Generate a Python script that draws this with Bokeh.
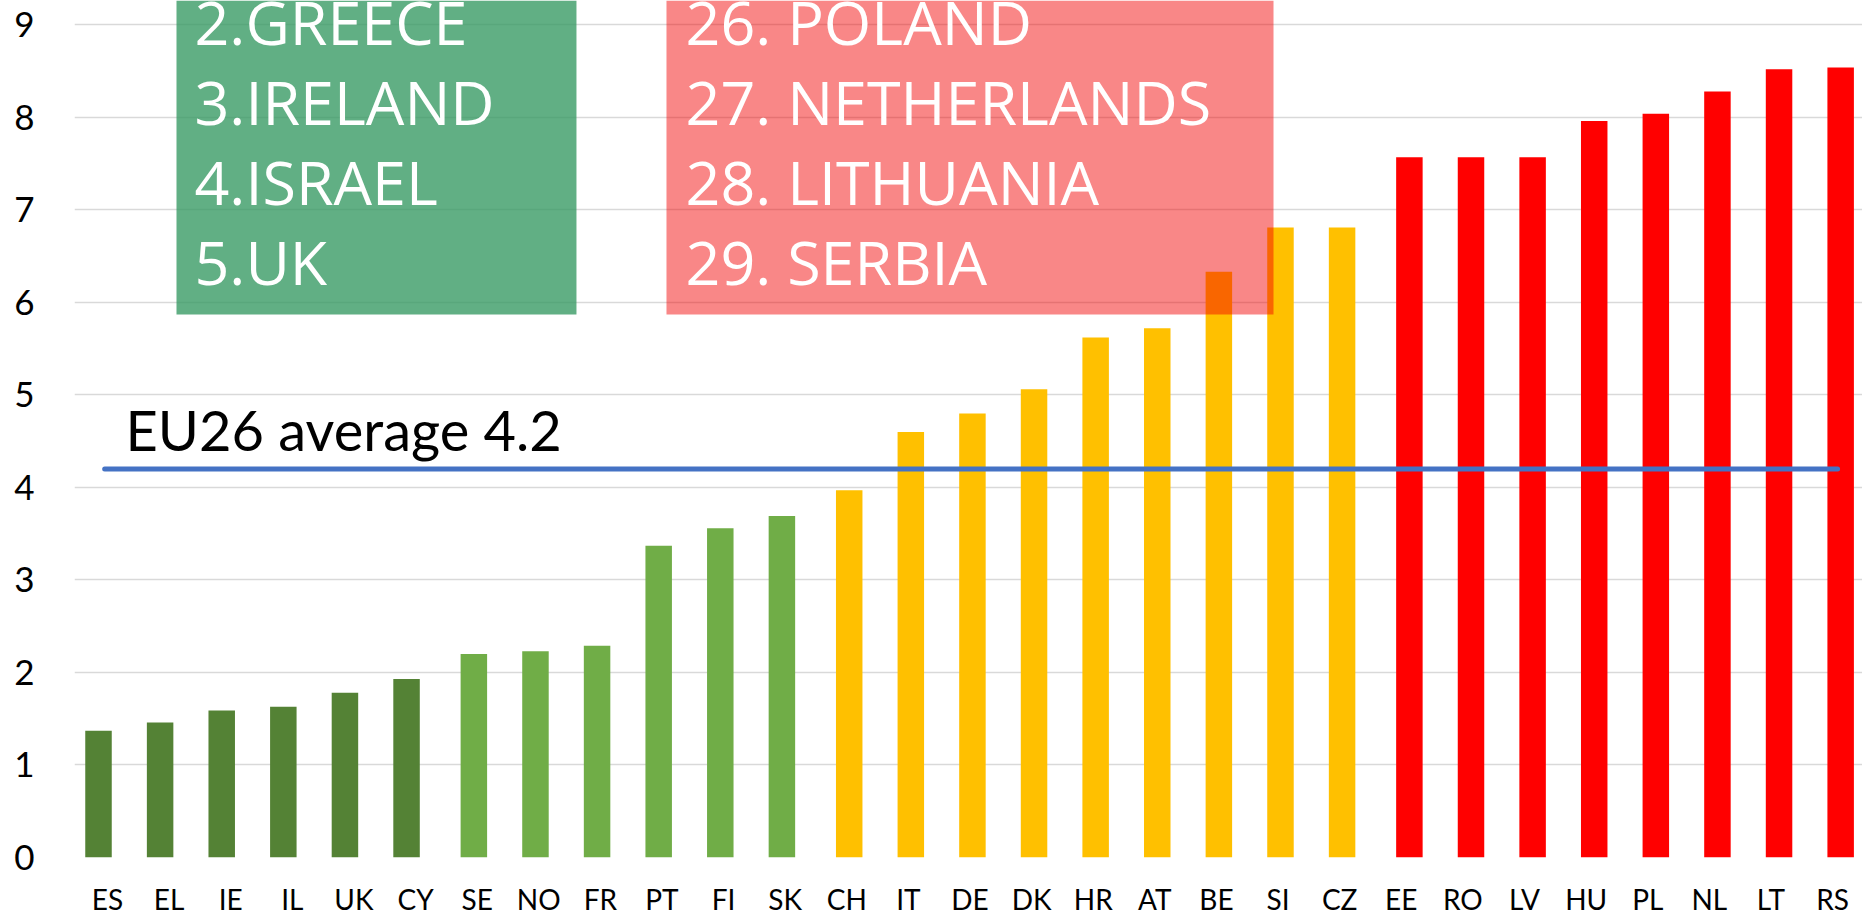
import numpy as np
from bokeh.plotting import figure
from bokeh.models import Range1d, FixedTicker, BoxAnnotation, ColumnDataSource
from bokeh.embed import file_html
from bokeh.resources import INLINE
from bokeh.core.properties import value

# ---------------- data ----------------
countries = ["ES", "EL", "IE", "IL", "UK", "CY", "SE", "NO", "FR", "PT", "FI", "SK",
             "CH", "IT", "DE", "DK", "HR", "AT", "BE", "SI", "CZ",
             "EE", "RO", "LV", "HU", "PL", "NL", "LT", "RS"]
values = [1.37, 1.46, 1.59, 1.63, 1.78, 1.93, 2.20, 2.23, 2.29, 3.37, 3.56, 3.69,
          3.97, 4.60, 4.80, 5.06, 5.62, 5.72, 6.33, 6.81, 6.81,
          7.57, 7.57, 7.57, 7.96, 8.04, 8.28, 8.52, 8.54]
groups = [0] * 6 + [1] * 6 + [2] * 9 + [3] * 8
group_colors = ["#548235", "#70AD47", "#FFC000", "#FF0000"]
eu_average = 4.2
avg_label = "EU26 average 4.2"
best_ranks = ["2.GREECE", "3.IRELAND", "4.ISRAEL", "5.UK"]
worst_ranks = ["26. POLAND", "27. NETHERLANDS", "28. LITHUANIA", "29. SERBIA"]
y_ticks = list(range(10))

# ---------------- layout constants ----------------
n = len(countries)
label_x = np.arange(n)
bar_shift = -0.146      # bars sit slightly off the label positions
group_gap = 0.0925      # small extra gap between colour groups
bar_x = label_x + bar_shift + group_gap * np.array(groups)
bar_colors = [group_colors[g] for g in groups]

src = ColumnDataSource(dict(x=bar_x, top=values, color=bar_colors, name=countries))

p = figure(frame_width=1788, frame_height=857,
           x_range=Range1d(-0.5356, 28.486), y_range=Range1d(0, 9.263),
           output_backend="svg", toolbar_location=None,
           min_border_left=74, min_border_right=0, min_border_top=0, min_border_bottom=0)
p.background_fill_color = "white"
p.border_fill_color = "white"
p.outline_line_color = None

# grid
p.xgrid.visible = False
p.ygrid.grid_line_color = "#d9d9d9"
p.ygrid.grid_line_width = 1.5

# bars
p.vbar(x="x", top="top", bottom=0, width=0.43, fill_color="color", line_color=None, source=src)

# average line
avg_x = [bar_x[0] + 0.1, bar_x[-1] - 0.05]
p.line(x=avg_x, y=[eu_average, eu_average], line_color="#4472C4", line_width=5, line_cap="round")
p.text(x=[0.292], y=[4.63], text=[avg_label], text_font=value("Lato"),
       text_font_size="56px", text_color="black", text_baseline="alphabetic")

# highlight boxes
green_box = BoxAnnotation(left=1.12, right=7.612, bottom=5.869,
                          fill_color="#369a63", fill_alpha=0.79, line_color=None)
red_box = BoxAnnotation(left=9.073, right=18.926, bottom=5.869,
                        fill_color="#F20000", fill_alpha=0.47, line_color=None)
p.add_layout(green_box)
p.add_layout(red_box)

line_y0 = 9.036
line_step = 0.865
p.text(x=[1.412] * len(best_ranks), y=[line_y0 - k * line_step for k in range(len(best_ranks))],
       text=best_ranks, text_font=value("Open Sans"), text_font_size="61px",
       text_color="white", text_baseline="alphabetic", level="overlay")
p.text(x=[9.382] * len(worst_ranks), y=[line_y0 - k * line_step for k in range(len(worst_ranks))],
       text=worst_ranks, text_font=value("Open Sans"), text_font_size="61px",
       text_color="white", text_baseline="alphabetic", level="overlay")

# axes
xa = p.xaxis[0]
xa.ticker = FixedTicker(ticks=[int(i) for i in label_x])
xa.major_label_overrides = {int(i): c for i, c in zip(label_x, countries)}
xa.axis_line_color = None
xa.major_tick_line_color = None
xa.minor_tick_line_color = None
xa.major_tick_out = 0
xa.major_tick_in = 0
xa.major_label_standoff = 24
xa.major_label_text_font = "Lato"
xa.major_label_text_font_size = "28px"
xa.major_label_text_color = "black"

ya = p.yaxis[0]
ya.ticker = FixedTicker(ticks=y_ticks)
ya.axis_line_color = None
ya.major_tick_line_color = None
ya.minor_tick_line_color = None
ya.major_tick_out = 0
ya.major_tick_in = 0
ya.major_label_standoff = 40
ya.major_label_text_font = "Lato"
ya.major_label_text_font_size = "35px"
ya.major_label_text_color = "black"

open("out.html", "w").write(file_html(p, INLINE))
